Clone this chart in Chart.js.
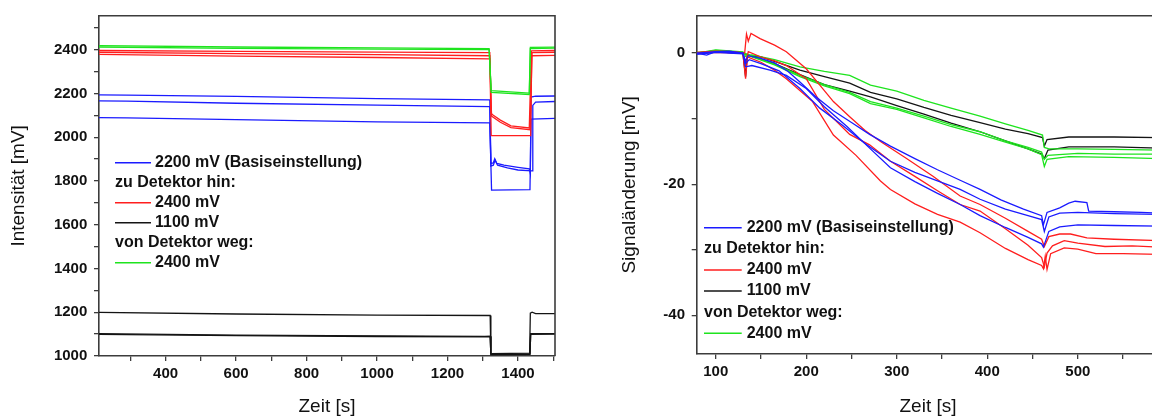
<!DOCTYPE html>
<html>
<head>
<meta charset="utf-8">
<script src="https://cdn.jsdelivr.net/npm/chart.js@4/dist/chart.umd.min.js"></script>
<style>
  html, body { margin: 0; padding: 0; width: 1152px; height: 419px; overflow: hidden; background: #fff; }
  canvas { position: absolute; top: 0; }
  #intensity { left: 0; }
  #change { left: 580px; }
</style>
</head>
<body>
<canvas id="intensity" width="570" height="419" style="width:570px;height:419px"></canvas>
<canvas id="change" width="600" height="419" style="width:600px;height:419px"></canvas>
<script>
// ---- Left panel: Intensität [mV] over Zeit [s] ----
const intBlue1 = [[211,2193],[290,2192],[600,2186],[1000,2176],[1320,2170],[1323,1880],[1330,1882],[1334,1901],[1340,1880],[1360,1872],[1400,1862],[1432,1855],[1435,1833],[1437,2183],[1450,2187],[1505,2188]];
const intBlue2 = [[211,2166],[290,2165],[600,2155],[1000,2146],[1320,2140],[1323,1868],[1330,1872],[1335,1895],[1342,1872],[1370,1860],[1400,1850],[1440,1846],[1442,2145],[1450,2160],[1505,2163]];
const intBlue3 = [[211,2089],[290,2088],[600,2080],[1000,2070],[1320,2065],[1325,1758],[1434,1760],[1437,2082],[1505,2086]];
const intRed1 = [[211,2396],[600,2392],[1000,2389],[1320,2386],[1324,2108],[1330,2100],[1350,2078],[1380,2052],[1432,2042],[1438,2394],[1505,2396]];
const intRed2 = [[211,2388],[600,2382],[1000,2377],[1320,2372],[1325,2096],[1350,2068],[1380,2044],[1434,2034],[1440,2386],[1505,2388]];
const intRed3 = [[211,2378],[600,2370],[1000,2364],[1320,2358],[1324,2007],[1436,2007],[1439,2372],[1505,2374]];
const intBlack1 = [[211,1199],[600,1192],[1000,1187],[1321,1185],[1323,1011],[1433,1013],[1435,1196],[1440,1200],[1450,1194],[1505,1194]];
const intBlack2 = [[211,1102],[600,1095],[1000,1092],[1306,1090],[1321,1091],[1323,1006],[1434,1007],[1436,1102],[1505,1102]];
const intBlack3 = [[211,1099],[600,1093],[1000,1089],[1305,1087],[1321,1088],[1323,1009],[1434,1010],[1436,1099],[1505,1100]];
const intGreen1 = [[211,2418],[600,2412],[1000,2408],[1318,2405],[1324,2213],[1432,2201],[1435,2410],[1505,2411]];
const intGreen2 = [[211,2412],[600,2406],[1000,2402],[1318,2400],[1324,2205],[1432,2195],[1435,2405],[1505,2407]];
const intTimeTicks = [300, 400, 500, 600, 700, 800, 900, 1000, 1100, 1200, 1300, 1400, 1500];
const intValueTicks = [1000, 1100, 1200, 1300, 1400, 1500, 1600, 1700, 1800, 1900, 2000, 2100, 2200, 2300, 2400, 2500];

// ---- Right panel: Signaländerung [mV] over Zeit [s] ----
const sigBlue1 = [[79,0],[90,-0.3],[100,0.2],[115,0.3],[130,0],[133,-1.2],[136,-0.4],[150,-0.8],[165,-1.5],[180,-2.8],[193,-4.4],[210,-6.6],[230,-8.8],[250,-10.6],[270,-12.4],[293,-14.2],[320,-16.1],[345,-17.8],[370,-19.4],[392,-20.8],[415,-22.4],[440,-23.8],[460,-24.8],[462,-26.2],[466,-24.3],[480,-23.6],[490,-22.9],[497,-22.6],[510,-22.8],[512,-24.1],[540,-24.2],[570,-24.3],[590,-24.4]];
const sigBlue2 = [[79,-0.2],[100,0.1],[130,-0.1],[133,-1.6],[137,-1.0],[150,-1.6],[170,-2.7],[193,-5.4],[215,-8.4],[240,-11],[265,-13.8],[293,-16.5],[320,-18.2],[345,-19.5],[370,-20.8],[392,-22.3],[420,-23.8],[445,-24.8],[460,-25.4],[463,-27.2],[468,-25],[480,-24.4],[500,-24.3],[540,-24.5],[590,-24.6]];
const sigBlue3 = [[79,0],[100,0.2],[130,0],[133,-2.1],[140,-1.9],[160,-2.6],[178,-3.4],[200,-5.4],[220,-8.2],[245,-11.2],[270,-14.5],[293,-17.5],[320,-19.6],[345,-21.4],[370,-23.1],[392,-24.8],[420,-26.6],[445,-28.1],[460,-29.1],[462,-29.6],[468,-27.2],[480,-26.5],[500,-26.2],[540,-26.3],[590,-26.4]];
const sigRed1 = [[79,0.1],[100,0.3],[120,0.2],[132,0],[134,2.9],[136,1.8],[139,3.0],[149,2.2],[165,1.2],[178,0.2],[190,-1.2],[200,-2.4],[215,-4.9],[230,-7.4],[248,-9.7],[265,-11.8],[282,-13.5],[310,-16],[340,-18.8],[370,-21.8],[392,-23.1],[420,-25.2],[445,-27.2],[460,-28.4],[463,-29.5],[468,-28],[480,-27.6],[492,-27.6],[510,-28.2],[540,-28.4],[590,-28.6]];
const sigRed2 = [[79,0],[100,0.2],[130,0],[133,-1.5],[136,0.2],[150,-0.6],[165,-1.2],[178,-1.9],[200,-3.9],[220,-8.6],[248,-12.4],[270,-14],[293,-16.5],[320,-18.8],[345,-21],[370,-23.1],[392,-24.1],[420,-26.8],[445,-29.3],[460,-31.2],[463,-32.6],[466,-30.5],[472,-29.4],[485,-28.6],[500,-29],[530,-29.5],[560,-29.4],[590,-29.6]];
const sigRed3 = [[79,-0.1],[100,0.1],[130,0],[133,-3.9],[135,-0.6],[150,-1.4],[165,-2.6],[178,-3.9],[192,-5.6],[207,-7.4],[230,-12.5],[255,-15.6],[282,-19.5],[293,-20.8],[320,-23],[345,-24.6],[370,-25.8],[392,-27.4],[420,-29.8],[445,-31.5],[460,-32.4],[462,-32.9],[464,-31],[466,-33],[470,-30.6],[485,-29.7],[500,-29.9],[520,-30.6],[550,-30.6],[590,-30.7]];
const sigBlack1 = [[79,0],[100,0.3],[130,0],[133,-3.6],[135,-0.3],[150,-0.6],[170,-1.5],[193,-2.6],[220,-3.6],[248,-4.6],[271,-6.0],[300,-7.0],[330,-8.3],[360,-9.5],[392,-10.6],[420,-11.6],[445,-12.3],[461,-12.9],[463,-14.2],[466,-13.2],[490,-12.8],[540,-12.8],[590,-12.9]];
const sigBlack2 = [[79,-0.1],[100,0.2],[130,0],[140,-0.5],[165,-1.6],[193,-3.3],[220,-4.8],[248,-5.8],[271,-6.7],[300,-8.0],[330,-9.3],[360,-10.7],[392,-12],[420,-13.4],[445,-14.6],[460,-15.4],[463,-16.1],[467,-14.8],[490,-14.3],[540,-14.3],[590,-14.5]];
const sigGreen1 = [[79,0],[100,0.5],[130,0.2],[133,-0.5],[140,-0.3],[165,-1.0],[193,-2.1],[220,-2.8],[248,-3.4],[271,-4.9],[300,-5.8],[330,-7.2],[360,-8.4],[392,-9.6],[420,-10.8],[445,-11.8],[461,-12.5],[463,-14.4],[468,-14.6],[500,-14.6],[540,-14.7],[590,-14.8]];
const sigGreen2 = [[79,0.1],[100,0.3],[130,0],[140,-0.6],[165,-1.8],[193,-3.6],[220,-5.0],[248,-6.2],[271,-7.7],[300,-8.6],[330,-9.9],[360,-11.2],[392,-12.4],[420,-13.6],[445,-14.6],[460,-15.5],[463,-17.3],[466,-16.2],[490,-15.8],[540,-15.9],[590,-16.1]];
const sigGreen3 = [[79,0],[100,0.4],[130,0.1],[140,-0.5],[165,-1.7],[193,-3.4],[220,-4.8],[248,-6],[271,-7.4],[300,-8.4],[330,-9.6],[360,-10.9],[392,-12.0],[420,-13.4],[445,-14.4],[460,-15.1],[463,-16.2],[467,-15.6],[500,-15.3],[540,-15.4],[590,-15.4]];
const sigTimeTicks = [100, 150, 200, 250, 300, 350, 400, 450, 500, 550];
const sigValueTicks = [-40, -30, -20, -10, 0];

// Legend rows shared by both panels
const legendRows = [
  { color: 'blue',  text: '2200 mV (Basiseinstellung)' },
  { color: null,    text: 'zu Detektor hin:' },
  { color: 'red',   text: '2400 mV' },
  { color: 'black', text: '1100 mV' },
  { color: null,    text: 'von Detektor weg:' },
  { color: 'green', text: '2400 mV' }
];

const COLORS = { blue: '#1b1bff', red: '#ff1e1e', black: '#141414', green: '#1ee41e' };
const FRAME = '#3c3c3c';
const TEXT = '#111111';
const FAMILY = '"Liberation Sans", Arial, Helvetica, sans-serif';

function series(pairs, colorKey) {
  return {
    data: pairs.map(([x, y]) => ({ x, y })),
    borderColor: COLORS[colorKey],
    borderWidth: 1.3,
    pointRadius: 0,
    tension: 0,
    fill: false
  };
}

// Box frame (top and right edges) plus the free-standing legend
const framePlugin = {
  id: 'frameAndLegend',
  afterDatasetsDraw(chart, args, opts) {
    const { ctx, chartArea: a } = chart;
    ctx.save();
    ctx.strokeStyle = FRAME;
    ctx.lineWidth = 1.6;
    ctx.beginPath();
    ctx.moveTo(a.left, a.top);
    ctx.lineTo(a.right, a.top);
    ctx.lineTo(a.right, a.bottom);
    ctx.stroke();

    ctx.font = 'bold 16px ' + FAMILY;
    ctx.textBaseline = 'middle';
    ctx.textAlign = 'left';
    const x0 = a.left + opts.dx;
    legendRows.forEach((row, i) => {
      const y = opts.top + i * opts.step;
      ctx.fillStyle = TEXT;
      if (row.color) {
        ctx.strokeStyle = COLORS[row.color];
        ctx.lineWidth = 1.5;
        ctx.beginPath();
        ctx.moveTo(x0, y);
        ctx.lineTo(x0 + opts.sample, y);
        ctx.stroke();
        ctx.fillText(row.text, x0 + opts.sample + opts.gap, y);
      } else {
        ctx.fillText(row.text, x0, y);
      }
    });
    ctx.restore();
  }
};

function axisCommon(min, max, tickValues, every) {
  return {
    type: 'linear', min, max,
    border: { display: true, color: FRAME, width: 1.6 },
    grid: { display: true, drawOnChartArea: false, drawTicks: true, tickLength: 5, color: FRAME, lineWidth: 1.3 },
    afterBuildTicks(s) { s.ticks = tickValues.map(v => ({ value: v })); },
    ticks: {
      autoSkip: false, maxRotation: 0,
      color: TEXT, font: { family: FAMILY, size: 15, weight: 'bold' },
      callback: v => (v % every === 0 ? String(v) : '')
    }
  };
}

function xAxis(min, max, tickValues, every, axisHeight) {
  const a = axisCommon(min, max, tickValues, every);
  a.ticks.padding = 4;
  a.title = { display: true, text: 'Zeit [s]', color: TEXT, font: { family: FAMILY, size: 19, lineHeight: 1 }, padding: { top: 0, bottom: 2.5 } };
  a.afterFit = s => { s.height = axisHeight; };
  return a;
}

function yAxis(min, max, tickValues, every, axisWidth, title, titlePad) {
  const a = axisCommon(min, max, tickValues, every);
  a.ticks.padding = 6.7;
  a.title = { display: true, text: title, color: TEXT, font: { family: FAMILY, size: 19, lineHeight: 1 }, padding: { top: titlePad, bottom: 0 } };
  a.afterFit = s => { s.width = axisWidth; };
  return a;
}

new Chart(document.getElementById('intensity'), {
  type: 'line',
  data: {
    datasets: [
      series(intGreen1, 'green'), series(intGreen2, 'green'),
      series(intRed1, 'red'), series(intRed2, 'red'), series(intRed3, 'red'),
      series(intBlue1, 'blue'), series(intBlue2, 'blue'), series(intBlue3, 'blue'),
      series(intBlack1, 'black'), series(intBlack2, 'black'), series(intBlack3, 'black')
    ]
  },
  options: {
    responsive: false, animation: false, devicePixelRatio: 1,
    layout: { padding: { top: 15, right: 15, left: 0, bottom: 0 } },
    plugins: {
      legend: { display: false }, tooltip: { enabled: false },
      frameAndLegend: { dx: 16, sample: 36, gap: 4, top: 162.7, step: 20 }
    },
    scales: {
      x: xAxis(211, 1505, intTimeTicks, 200, 63),
      y: yAxis(1000, 2555, intValueTicks, 200, 99, 'Intensität [mV]', 9.5)
    }
  },
  plugins: [framePlugin]
});

new Chart(document.getElementById('change'), {
  type: 'line',
  data: {
    datasets: [
      series(sigBlue1, 'blue'), series(sigBlue2, 'blue'), series(sigBlue3, 'blue'),
      series(sigRed1, 'red'), series(sigRed2, 'red'), series(sigRed3, 'red'),
      series(sigGreen1, 'green'), series(sigGreen2, 'green'), series(sigGreen3, 'green'),
      series(sigBlack1, 'black'), series(sigBlack2, 'black')
    ]
  },
  options: {
    responsive: false, animation: false, devicePixelRatio: 1,
    layout: { padding: { top: 13.3, right: 20.7, left: 0, bottom: 0 } },
    plugins: {
      legend: { display: false }, tooltip: { enabled: false },
      frameAndLegend: { dx: 7.3, sample: 37.7, gap: 5, top: 227.7, step: 21.1 }
    },
    scales: {
      x: xAxis(79, 590, sigTimeTicks, 100, 65),
      y: yAxis(-45.9, 5.7, sigValueTicks, 20, 116.7, 'Signaländerung [mV]', 40.5)
    }
  },
  plugins: [framePlugin]
});
</script>
</body>
</html>
